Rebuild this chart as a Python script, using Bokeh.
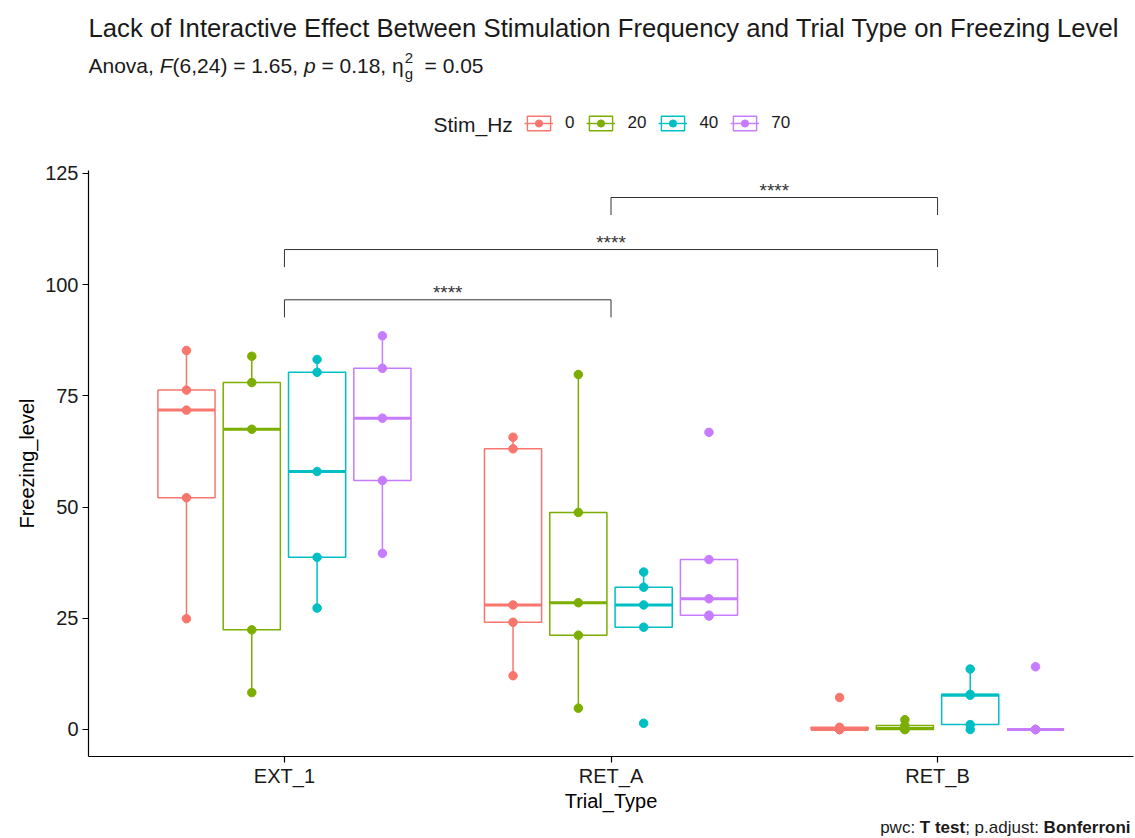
import numpy as np
from bokeh.plotting import figure
from bokeh.layouts import column
from bokeh.models import Label, Legend, LegendItem, FixedTicker, Range1d
from bokeh.core.properties import value
from bokeh.embed import file_html
from bokeh.resources import INLINE

# ---------------- data ----------------
trial_types = ["EXT_1", "RET_A", "RET_B"]
stim_levels = ["0", "20", "40", "70"]
stim_colors = ["#F8766D", "#7CAE00", "#00BFC4", "#C77CFF"]

ext1_hz0 = [85.2, 76.3, 71.8, 52.1, 24.9]
ext1_hz20 = [83.9, 78.0, 67.5, 22.4, 8.3]
ext1_hz40 = [83.2, 80.3, 58.0, 38.7, 27.3]
ext1_hz70 = [88.5, 81.2, 70.0, 56.0, 39.6]

reta_hz0 = [65.7, 63.1, 28.0, 24.1, 12.1]
reta_hz20 = [79.8, 48.8, 28.5, 21.2, 4.8]
reta_hz40 = [35.4, 32.0, 28.0, 23.0, 1.4]
reta_hz70 = [66.8, 38.2, 29.4, 25.7, 25.5]

retb_hz0 = [7.2, 0.5, 0.0, 0.0, 0.0]
retb_hz20 = [2.2, 0.9, 0.2, 0.0, 0.0]
retb_hz40 = [13.6, 7.9, 7.7, 1.1, 0.0]
retb_hz70 = [14.1, 0.0, 0.0, 0.0, 0.0]

# pairwise comparisons (T test, Bonferroni)
pwc_group1 = ["EXT_1", "EXT_1", "RET_A"]
pwc_group2 = ["RET_A", "RET_B", "RET_B"]
pwc_y = [96.6, 107.9, 119.6]
pwc_label = ["****", "****", "****"]

y_ticks = [0, 25, 50, 75, 100, 125]

freezing = {
    "EXT_1": [ext1_hz0, ext1_hz20, ext1_hz40, ext1_hz70],
    "RET_A": [reta_hz0, reta_hz20, reta_hz40, reta_hz70],
    "RET_B": [retb_hz0, retb_hz20, retb_hz40, retb_hz70],
}

FONT = "Liberation Sans"
W = 1135
FL, FR = 88, 1133          # frame left / right (canvas px)
TOP_H = 160
BOT_H = 20
MAIN_H = 838 - TOP_H - BOT_H

# ---------------- main figure ----------------
Y0, Y1 = -6.07, 125.67
p = figure(width=W, height=MAIN_H, x_range=Range1d(0.4, 3.6), y_range=Range1d(Y0, Y1),
           output_backend="svg", toolbar_location=None,
           min_border_left=FL, min_border_right=W - FR, min_border_top=10,
           min_border_bottom=MAIN_H - 10 - 586)
p.outline_line_color = None
p.xgrid.visible = False
p.ygrid.visible = False

n_grp = len(stim_levels)
slot = 0.8 / n_grp
half_w = 0.7 / n_grp / 2

for si, lvl in enumerate(stim_levels):
    col = stim_colors[si]
    L, R, T, B, MX0, MX1, MY = [], [], [], [], [], [], []
    WX, WY0, WY1 = [], [], []
    PX, PY = [], []
    for ti, tt in enumerate(trial_types):
        vals = np.array(freezing[tt][si], dtype=float)
        xc = ti + 1 + (si - (n_grp - 1) / 2) * slot
        q1, med, q3 = np.percentile(vals, [25, 50, 75])
        iqr = q3 - q1
        hi = vals[vals <= q3 + 1.5 * iqr].max()
        lo = vals[vals >= q1 - 1.5 * iqr].min()
        L.append(xc - half_w); R.append(xc + half_w); T.append(q3); B.append(q1)
        MX0.append(xc - half_w); MX1.append(xc + half_w); MY.append(med)
        WX += [xc, xc]; WY0 += [q3, q1]; WY1 += [hi, lo]
        PX += [xc] * len(vals); PY += list(vals)
    p.segment(x0=WX, y0=WY0, x1=WX, y1=WY1, line_color=col, line_width=1.5)
    p.quad(left=L, right=R, top=T, bottom=B, fill_color="white", fill_alpha=0,
           line_color=col, line_width=1.5)
    p.segment(x0=MX0, y0=MY, x1=MX1, y1=MY, line_color=col, line_width=3)
    p.scatter(x=PX, y=PY, size=8.5, fill_color=col, line_color=col)

# brackets
tip = 0.03 * (Y1 - Y0)
pos = {t: i + 1 for i, t in enumerate(trial_types)}
bx0 = [pos[g] for g in pwc_group1]
bx1 = [pos[g] for g in pwc_group2]
p.segment(x0=bx0, y0=pwc_y, x1=bx1, y1=pwc_y, line_color="#333333", line_width=1)
p.segment(x0=bx0, y0=pwc_y, x1=bx0, y1=[y - tip for y in pwc_y], line_color="#333333", line_width=1)
p.segment(x0=bx1, y0=pwc_y, x1=bx1, y1=[y - tip for y in pwc_y], line_color="#333333", line_width=1)
p.text(x=[(a + b) / 2 for a, b in zip(bx0, bx1)], y=[y + 1.6 for y in pwc_y], text=pwc_label,
       text_align="center", text_baseline="alphabetic", text_font=value(FONT),
       text_font_size="19px", text_color="#333333")

# axes
p.xaxis.ticker = FixedTicker(ticks=[1, 2, 3])
p.xaxis.major_label_overrides = {i + 1: t for i, t in enumerate(trial_types)}
p.yaxis.ticker = FixedTicker(ticks=y_ticks)
p.xaxis.axis_label = "Trial_Type"
p.yaxis.axis_label = "Freezing_level"
for ax in (p.xaxis, p.yaxis):
    ax.axis_line_color = "black"
    ax.axis_line_width = 1.2
    ax.major_tick_line_color = "black"
    ax.major_tick_line_width = 1.2
    ax.major_tick_out = 6
    ax.major_tick_in = 0
    ax.minor_tick_line_color = None
    ax.major_label_text_font = FONT
    ax.major_label_text_font_size = "20px"
    ax.major_label_text_color = "#1a1a1a"
    ax.major_label_standoff = 4
    ax.axis_label_text_font = FONT
    ax.axis_label_text_font_size = "20px"
    ax.axis_label_text_font_style = "normal"
    ax.axis_label_text_color = "black"
    ax.axis_label_standoff = 4
p.xaxis.major_label_standoff = 2
p.xaxis.axis_label_standoff = 0

# ---------------- text helpers ----------------
AW = {' ': 278, '(': 333, ')': 333, ',': 278, '.': 278, ':': 278, ';': 278, '=': 584, '*': 389, '_': 556, 'η': 556}
for d in "0123456789":
    AW[d] = 556
AW.update(dict(A=667, B=667, C=722, D=722, E=667, F=611, G=778, H=722, I=278, J=500, K=667, L=556, M=833,
               N=722, O=778, P=667, Q=778, R=722, S=667, T=611, U=722, V=667, W=944, X=667, Y=667, Z=611))
AW.update(dict(a=556, b=556, c=500, d=556, e=556, f=278, g=556, h=556, i=222, j=222, k=500, l=222, m=833,
               n=556, o=556, p=556, q=556, r=333, s=500, t=278, u=556, v=500, w=722, x=500, y=500, z=500))
BW = dict(AW)
BW.update(dict(B=722, T=611, b=611, d=611, f=333, i=278, n=611, o=611, r=389, s=556, t=333))


def tw(s, px, bold=False):
    tab = BW if bold else AW
    return sum(tab.get(c, 556) for c in s) * px / 1000.0


def text_fig(h, y_top):
    # canvas-pixel data space: x from frame left to frame right, y downward
    f = figure(width=W, height=h, x_range=Range1d(FL, FR), y_range=Range1d(y_top + h, y_top),
               output_backend="svg", toolbar_location=None, x_axis_location=None, y_axis_location=None,
               title=None, min_border=0)
    f.min_border_left = f.min_border_right = f.min_border_top = f.min_border_bottom = 0
    f.outline_line_color = None
    f.xgrid.visible = False
    f.ygrid.visible = False
    return f


def add_label(f, text, cx, base, size, style="normal", align="left", color="#1a1a1a"):
    # base = canvas y of the text baseline; drawn with a middle anchor
    f.add_layout(Label(x=cx, y=base - 0.35 * size, text=text, text_font=FONT, text_font_size=f"{size}px",
                       text_font_style=style, text_align=align, text_baseline="middle", text_color=color))


def add_run(f, parts, x, base, size):
    """parts: (text, style); spaces are kept by advancing positions."""
    cx = x
    for txt, st in parts:
        bold = st == "bold"
        lead = txt[:len(txt) - len(txt.lstrip())]
        core = txt.strip()
        if core:
            add_label(f, core, cx + tw(lead, size, bold), base, size, style=st)
        cx += tw(txt, size, bold)
    return cx


# ---------------- header: title, subtitle, legend ----------------
top = text_fig(TOP_H, 0)
add_label(top, "Lack of Interactive Effect Between Stimulation Frequency and Trial Type on Freezing Level",
          88, 36, 25.7)

SUB = 21
cx = add_run(top, [("Anova, ", "normal"), ("F", "italic"), ("(6,24) = 1.65, ", "normal"),
                   ("p", "italic"), (" = 0.18, ", "normal"), ("η", "normal")], 88, 72, SUB)
add_label(top, "2", cx + 1, 63, 15)
add_label(top, "g", cx + 1, 78, 15)
cx += 15
add_run(top, [(" = 0.05", "normal")], cx, 72, SUB)

add_label(top, "Stim_Hz", 433, 131, 21)
legend_items = []
for si, lvl in enumerate(stim_levels):
    col = stim_colors[si]
    # key glyphs (a single point kept outside the visible header range)
    kb = top.quad(left=[0], right=[10], top=[-50], bottom=[-40], fill_color="white",
                  line_color=col, line_width=1.4)
    km = top.segment(x0=[0], y0=[-45], x1=[10], y1=[-45], line_color=col, line_width=1.4)
    kp = top.scatter(x=[5], y=[-45], size=8, fill_color=col, line_color=col)
    legend_items.append(LegendItem(label=lvl, renderers=[kb, km, kp]))
legend = Legend(items=legend_items, orientation="horizontal", location=(524 - FL, TOP_H - 133),
                padding=0, margin=0, spacing=12, label_standoff=12, label_width=1,
                glyph_width=29, glyph_height=18,
                label_height=18, label_text_font=FONT, label_text_font_size="17px",
                label_text_color="#1a1a1a", border_line_color=None, background_fill_alpha=0)
top.add_layout(legend, "center")

# ---------------- footer: caption ----------------
bot = text_fig(BOT_H, 838 - BOT_H)
CAP = 17
cap_parts = [("pwc: ", "normal"), ("T test", "bold"), ("; p.adjust: ", "normal"), ("Bonferroni", "bold")]
total = sum(tw(t, CAP, s == "bold") for t, s in cap_parts)
add_run(bot, cap_parts, 1130 - total, 833, CAP)

layout = column(top, p, bot, spacing=0)
open("out.html", "w").write(file_html(layout, INLINE))
